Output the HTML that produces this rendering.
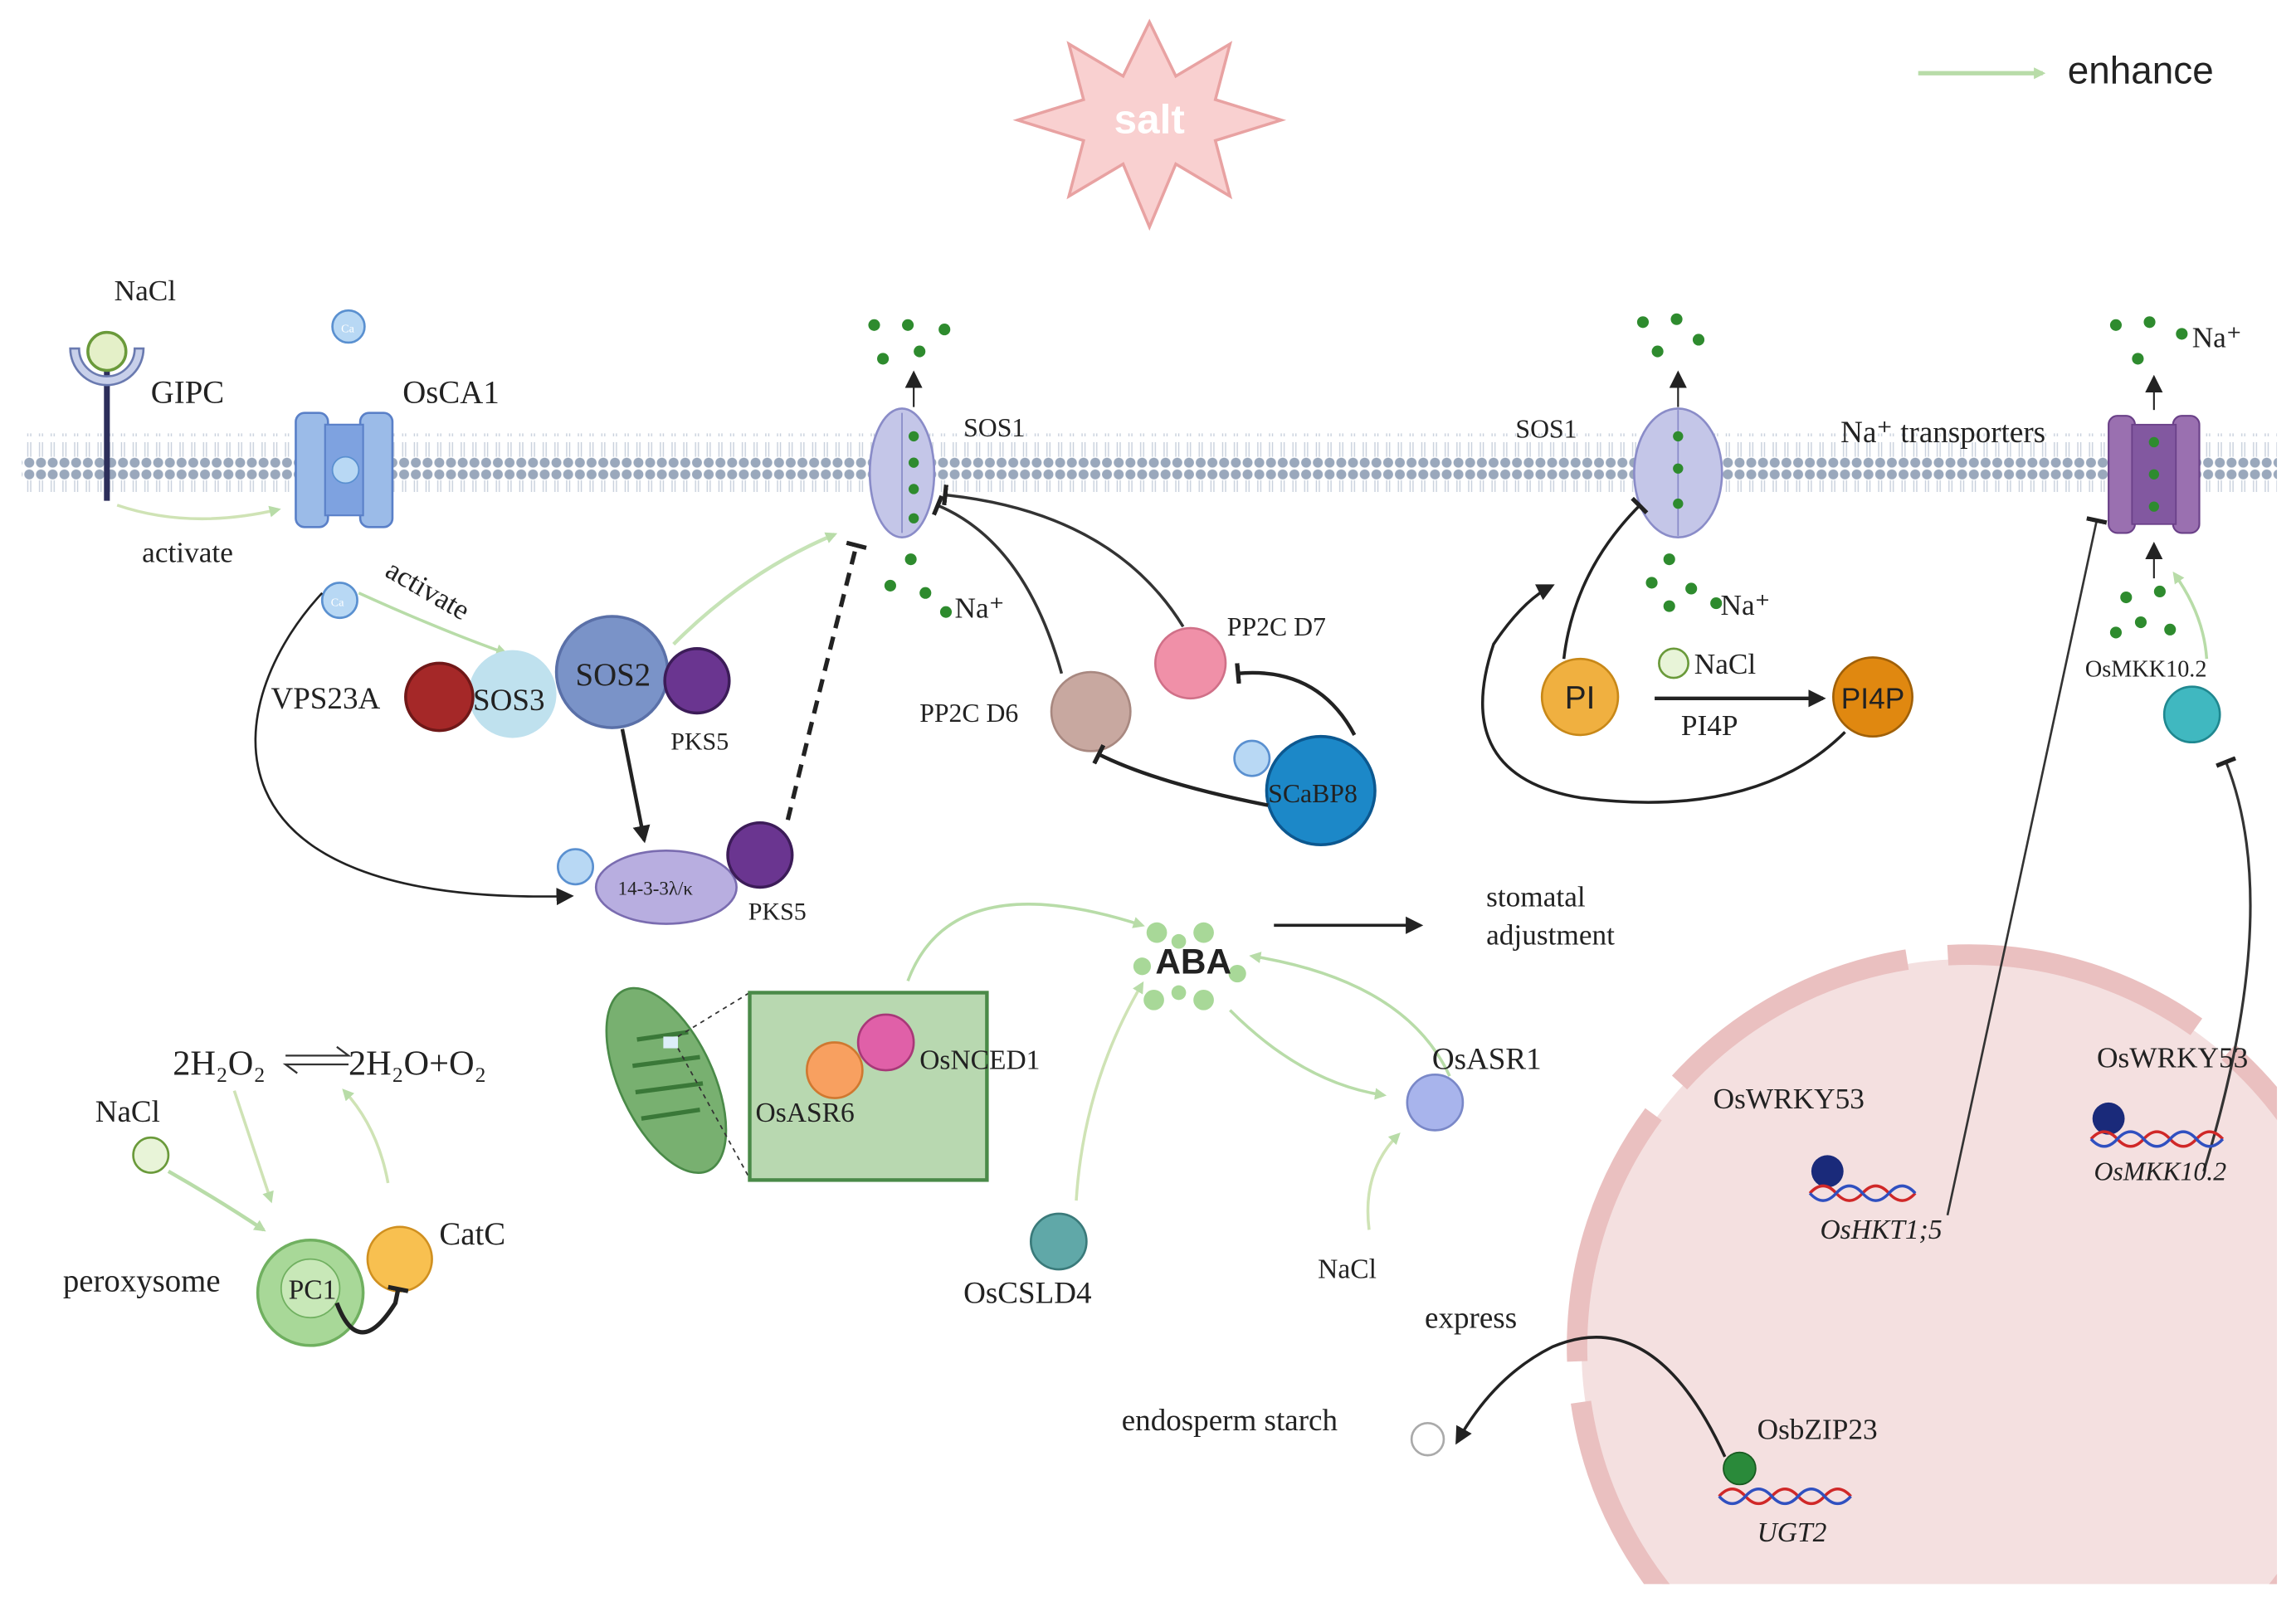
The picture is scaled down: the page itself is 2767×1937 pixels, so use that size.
<!DOCTYPE html>
<html><head><meta charset="utf-8"><style>
html,body{margin:0;padding:0;background:#fff;width:2767px;height:1937px;overflow:hidden;}
svg{display:block;}
text{font-family:"Liberation Serif",serif;fill:#222;}
.s{font-family:"Liberation Sans",sans-serif;}
</style></head><body>
<svg width="2767" height="1937" viewBox="0 0 1568 1097.6" xmlns="http://www.w3.org/2000/svg">
<defs>
<marker id="ga" markerWidth="8" markerHeight="8" refX="6" refY="4" orient="auto" markerUnits="userSpaceOnUse" viewBox="0 0 8 8"><path d="M0,0L8,4L0,8z" fill="#b8dca8"/></marker>
<marker id="ka" markerWidth="12" markerHeight="12" refX="10" refY="6" orient="auto" markerUnits="userSpaceOnUse"><path d="M0,0L12,6L0,12z" fill="#222"/></marker>
<marker id="kt" markerWidth="4" markerHeight="14" refX="2" refY="7" orient="auto" markerUnits="userSpaceOnUse"><rect x="0" y="0" width="3" height="14" fill="#222"/></marker>
<pattern id="lip" width="8" height="40" patternUnits="userSpaceOnUse">
<circle cx="4" cy="4" r="3.4" fill="#9aa8bc"/><circle cx="4" cy="36" r="3.4" fill="#9aa8bc"/>
<path d="M3,8 L3,18 M5,8 L5,18 M3,22 L3,32 M5,22 L5,32" stroke="#c8d0dc" stroke-width="0.8"/>
</pattern>
</defs>

<rect x="15" y="296" width="1540" height="40" fill="url(#lip)"/>

<polygon points="785,15 803,52 840,30 830,68 875,82 830,96 840,134 803,112 785,155 767,112 730,134 740,96 695,82 740,68 730,30 767,52" fill="#f9d0d0" stroke="#e8a2a2" stroke-width="2"/>
<text x="785" y="91" class="s" font-size="28" font-weight="bold" text-anchor="middle" style="fill:#fff">salt</text>

<line x1="1310" y1="50" x2="1395" y2="50" stroke="#b8dca8" stroke-width="3" marker-end="url(#ga)"/>
<text x="1412" y="57" class="s" font-size="26">enhance</text>

<clipPath id="nc"><rect x="0" y="0" width="1555" height="1082"/></clipPath>
<g clip-path="url(#nc)">
<circle cx="1345" cy="920" r="265" fill="#f4e0e0"/>
<circle cx="1345" cy="920" r="268" fill="none" stroke="#eac0c0" stroke-width="14" stroke-dasharray="180 28"/>
</g>

<line x1="73" y1="250" x2="73" y2="342" stroke="#2c2e5a" stroke-width="4"/>
<path d="M48,238 A25,25 0 0 0 98,238 L92,238 A19,19 0 0 1 54,238 Z" fill="#c8d0ea" stroke="#6a7ab0" stroke-width="1.5"/>
<circle cx="73" cy="240" r="13" fill="#e4f0c8" stroke="#6a9a3a" stroke-width="2"/>
<text x="78" y="205" font-size="20">NaCl</text>
<text x="103" y="275" font-size="22">GIPC</text>
<path d="M80,345 Q130,362 190,348" fill="none" stroke="#cfe3b5" stroke-width="2" marker-end="url(#ga)"/>
<text x="97" y="384" font-size="20">activate</text>

<rect x="202" y="282" width="22" height="78" rx="6" fill="#9bbbe8" stroke="#5a80c8" stroke-width="1.5"/>
<rect x="246" y="282" width="22" height="78" rx="6" fill="#9bbbe8" stroke="#5a80c8" stroke-width="1.5"/>
<rect x="222" y="290" width="26" height="62" fill="#7ea2e0" stroke="#5a80c8" stroke-width="1.2"/>
<circle cx="236" cy="321" r="9" fill="#b8d8f4" stroke="#5a90d0"/>
<circle cx="238" cy="223" r="11" fill="#b8d8f4" stroke="#5a90d0" stroke-width="1.5"/>
<text x="233" y="227" font-size="8" style="fill:#fff">Ca</text>
<text x="275" y="275" font-size="22">OsCA1</text>
<circle cx="232" cy="410" r="12" fill="#b8d8f4" stroke="#5a90d0" stroke-width="1.5"/>
<text x="226" y="414" font-size="8" style="fill:#fff">Ca</text>
<text x="262" y="393" font-size="20" transform="rotate(30 262 393)">activate</text>
<path d="M245,405 Q300,430 345,446" fill="none" stroke="#b8dca8" stroke-width="2" marker-end="url(#ga)"/>
<path d="M220,405 C150,480 130,620 390,612" fill="none" stroke="#222" stroke-width="1.5" marker-end="url(#ka)"/>

<circle cx="350" cy="474" r="30" fill="#bfe1ee"/>
<circle cx="300" cy="476" r="23" fill="#a52828" stroke="#701818" stroke-width="2"/>
<text x="185" y="484" font-size="21">VPS23A</text>
<text x="323" y="485" font-size="21">SOS3</text>
<circle cx="418" cy="459" r="38" fill="#7a93c8" stroke="#5a70a8" stroke-width="2"/>
<text x="393" y="468" font-size="22">SOS2</text>
<circle cx="476" cy="465" r="22" fill="#6a3590" stroke="#3c1c58" stroke-width="2"/>
<text x="458" y="512" font-size="17">PKS5</text>
<line x1="425" y1="498" x2="440" y2="574" stroke="#222" stroke-width="2.5" marker-end="url(#ka)"/>
<path d="M460,440 Q510,390 570,365" fill="none" stroke="#c6e3b6" stroke-width="2.5" marker-end="url(#ga)"/>
<ellipse cx="455" cy="606" rx="48" ry="25" fill="#b8aee0" stroke="#7a6cb0" stroke-width="1.5"/>
<text x="422" y="611" font-size="13">14-3-3λ/κ</text>
<circle cx="393" cy="592" r="12" fill="#b8d8f4" stroke="#5a90d0" stroke-width="1.5"/>
<circle cx="519" cy="584" r="22" fill="#6a3590" stroke="#3c1c58" stroke-width="2"/>
<text x="511" y="628" font-size="17">PKS5</text>
<path d="M538,560 Q560,470 585,372" fill="none" stroke="#222" stroke-width="3" stroke-dasharray="9 6" marker-end="url(#kt)"/>

<ellipse cx="616" cy="323" rx="22" ry="44" fill="#c4c6e8" stroke="#8a8cc8" stroke-width="1.5"/>
<line x1="616" y1="282" x2="616" y2="364" stroke="#8a8cc8"/>
<circle cx="624" cy="298" r="3.5" fill="#2e8b2e"/><circle cx="624" cy="316" r="3.5" fill="#2e8b2e"/><circle cx="624" cy="334" r="3.5" fill="#2e8b2e"/><circle cx="624" cy="354" r="3.5" fill="#2e8b2e"/>
<line x1="624" y1="278" x2="624" y2="255" stroke="#222" stroke-width="1.2" marker-end="url(#ka)"/>
<g fill="#2e8b2e"><circle cx="597" cy="222" r="4"/><circle cx="620" cy="222" r="4"/><circle cx="645" cy="225" r="4"/><circle cx="603" cy="245" r="4"/><circle cx="628" cy="240" r="4"/><circle cx="622" cy="382" r="4"/><circle cx="608" cy="400" r="4"/><circle cx="632" cy="405" r="4"/><circle cx="646" cy="418" r="4"/></g>
<text x="658" y="298" font-size="18">SOS1</text>
<text x="652" y="422" font-size="20">Na⁺</text>

<circle cx="745" cy="486" r="27" fill="#c8a8a0" stroke="#a88880" stroke-width="1.5"/>
<text x="628" y="493" font-size="18">PP2C D6</text>
<circle cx="813" cy="453" r="24" fill="#f090a8" stroke="#d07088" stroke-width="1.5"/>
<text x="838" y="434" font-size="18">PP2C D7</text>
<circle cx="902" cy="540" r="37" fill="#1c88c8" stroke="#0c5890" stroke-width="2"/>
<text x="866" y="548" font-size="18">SCaBP8</text>
<circle cx="855" cy="518" r="12" fill="#b8d8f4" stroke="#5a90d0" stroke-width="1.5"/>
<path d="M725,460 Q700,370 640,345" fill="none" stroke="#333" stroke-width="2" marker-end="url(#kt)"/>
<path d="M808,428 Q760,350 645,338" fill="none" stroke="#333" stroke-width="2" marker-end="url(#kt)"/>
<path d="M925,502 Q900,455 845,460" fill="none" stroke="#222" stroke-width="2.5" marker-end="url(#kt)"/>
<path d="M866,550 Q790,535 750,515" fill="none" stroke="#222" stroke-width="2.5" marker-end="url(#kt)"/>

<ellipse cx="1146" cy="323" rx="30" ry="44" fill="#c4c6e8" stroke="#8a8cc8" stroke-width="1.5"/>
<line x1="1146" y1="280" x2="1146" y2="366" stroke="#8a8cc8"/>
<circle cx="1146" cy="298" r="3.5" fill="#2e8b2e"/><circle cx="1146" cy="320" r="3.5" fill="#2e8b2e"/><circle cx="1146" cy="344" r="3.5" fill="#2e8b2e"/>
<line x1="1146" y1="278" x2="1146" y2="255" stroke="#222" stroke-width="1.2" marker-end="url(#ka)"/>
<g fill="#2e8b2e"><circle cx="1122" cy="220" r="4"/><circle cx="1145" cy="218" r="4"/><circle cx="1160" cy="232" r="4"/><circle cx="1132" cy="240" r="4"/><circle cx="1140" cy="382" r="4"/><circle cx="1128" cy="398" r="4"/><circle cx="1155" cy="402" r="4"/><circle cx="1140" cy="414" r="4"/><circle cx="1172" cy="412" r="4"/></g>
<text x="1035" y="299" font-size="18">SOS1</text>
<text x="1175" y="420" font-size="20">Na⁺</text>
<circle cx="1079" cy="476" r="26" fill="#f0b040" stroke="#c88818" stroke-width="1.5"/>
<text x="1079" y="484" class="s" font-size="22" text-anchor="middle">PI</text>
<circle cx="1279" cy="476" r="27" fill="#e08810" stroke="#a06008" stroke-width="1.5"/>
<text x="1279" y="484" class="s" font-size="20" text-anchor="middle">PI4P</text>
<line x1="1130" y1="477" x2="1245" y2="477" stroke="#222" stroke-width="2.5" marker-end="url(#ka)"/>
<circle cx="1143" cy="453" r="10" fill="#e8f4d8" stroke="#6a9a3a" stroke-width="1.5"/>
<text x="1157" y="460" font-size="20">NaCl</text>
<text x="1148" y="502" font-size="20">PI4P</text>
<path d="M1068,450 Q1075,390 1120,345" fill="none" stroke="#222" stroke-width="2" marker-end="url(#kt)"/>
<path d="M1260,500 Q1200,560 1080,545 Q990,530 1020,440 Q1040,410 1060,400" fill="none" stroke="#222" stroke-width="2" marker-end="url(#ka)"/>

<rect x="1440" y="284" width="18" height="80" rx="6" fill="#9a70b0" stroke="#6a4088" stroke-width="1.2"/>
<rect x="1484" y="284" width="18" height="80" rx="6" fill="#9a70b0" stroke="#6a4088" stroke-width="1.2"/>
<rect x="1456" y="290" width="30" height="68" fill="#8258a0" stroke="#6a4088"/>
<circle cx="1471" cy="302" r="3.5" fill="#2e8b2e"/><circle cx="1471" cy="324" r="3.5" fill="#2e8b2e"/><circle cx="1471" cy="346" r="3.5" fill="#2e8b2e"/>
<line x1="1471" y1="280" x2="1471" y2="258" stroke="#222" stroke-width="1.2" marker-end="url(#ka)"/>
<line x1="1471" y1="395" x2="1471" y2="372" stroke="#222" stroke-width="1.2" marker-end="url(#ka)"/>
<g fill="#2e8b2e"><circle cx="1445" cy="222" r="4"/><circle cx="1468" cy="220" r="4"/><circle cx="1490" cy="228" r="4"/><circle cx="1460" cy="245" r="4"/><circle cx="1452" cy="408" r="4"/><circle cx="1475" cy="404" r="4"/><circle cx="1462" cy="425" r="4"/><circle cx="1445" cy="432" r="4"/><circle cx="1482" cy="430" r="4"/></g>
<text x="1497" y="237" font-size="20">Na⁺</text>
<text x="1257" y="302" font-size="21">Na⁺ transporters</text>
<circle cx="1497" cy="488" r="19" fill="#40b8c0" stroke="#208890" stroke-width="1.5"/>
<text x="1424" y="462" font-size="16">OsMKK10.2</text>
<path d="M1507,450 Q1505,420 1485,392" fill="none" stroke="#b8dca8" stroke-width="2" marker-end="url(#ga)"/>
<path d="M1330,830 L1432,355" fill="none" stroke="#333" stroke-width="1.5" marker-end="url(#kt)"/>
<path d="M1505,800 Q1560,620 1520,520" fill="none" stroke="#333" stroke-width="1.8" marker-end="url(#kt)"/>

<g fill="#a8d898"><circle cx="790" cy="637" r="7"/><circle cx="822" cy="637" r="7"/><circle cx="805" cy="643" r="5"/><circle cx="788" cy="683" r="7"/><circle cx="822" cy="683" r="7"/><circle cx="780" cy="660" r="6"/><circle cx="845" cy="665" r="6"/><circle cx="805" cy="678" r="5"/></g>
<text x="815" y="665" class="s" font-size="24" font-weight="bold" text-anchor="middle">ABA</text>
<line x1="870" y1="632" x2="970" y2="632" stroke="#222" stroke-width="2" marker-end="url(#ka)"/>
<text x="1015" y="619" font-size="20">stomatal</text>
<text x="1015" y="645" font-size="20">adjustment</text>
<path d="M620,670 Q650,590 780,632" fill="none" stroke="#b8dca8" stroke-width="2" marker-end="url(#ga)"/>
<path d="M735,820 Q740,740 780,672" fill="none" stroke="#cfe3b5" stroke-width="2" marker-end="url(#ga)"/>
<path d="M840,690 Q890,740 945,748" fill="none" stroke="#b8dca8" stroke-width="2" marker-end="url(#ga)"/>
<path d="M990,735 Q960,670 855,653" fill="none" stroke="#b8dca8" stroke-width="2" marker-end="url(#ga)"/>
<circle cx="980" cy="753" r="19" fill="#a8b4ec" stroke="#7a88c8" stroke-width="1.5"/>
<text x="978" y="730" font-size="21">OsASR1</text>
<path d="M935,840 Q930,800 955,775" fill="none" stroke="#cfe3b5" stroke-width="2" marker-end="url(#ga)"/>
<text x="900" y="873" font-size="19">NaCl</text>
<circle cx="723" cy="848" r="19" fill="#60a8a8" stroke="#3a7a7a" stroke-width="1.5"/>
<text x="658" y="890" font-size="21">OsCSLD4</text>

<ellipse cx="455" cy="738" rx="32" ry="68" transform="rotate(-25 455 738)" fill="#78b070" stroke="#4a8a48" stroke-width="1.5"/>
<g stroke="#3a7838" stroke-width="3"><line x1="435" y1="710" x2="470" y2="705"/><line x1="432" y1="728" x2="478" y2="722"/><line x1="434" y1="746" x2="480" y2="740"/><line x1="438" y1="764" x2="478" y2="758"/></g>
<rect x="453" y="708" width="10" height="8" fill="#ddeefa"/>
<line x1="463" y1="708" x2="512" y2="678" stroke="#333" stroke-dasharray="3 3"/>
<line x1="463" y1="716" x2="512" y2="805" stroke="#333" stroke-dasharray="3 3"/>
<rect x="512" y="678" width="162" height="128" fill="#b8d8b0" stroke="#4a8a48" stroke-width="2.5"/>
<circle cx="570" cy="731" r="19" fill="#f8a060" stroke="#d07830" stroke-width="1.5"/>
<circle cx="605" cy="712" r="19" fill="#e060a8" stroke="#a83878" stroke-width="1.5"/>
<text x="628" y="730" font-size="19">OsNCED1</text>
<text x="516" y="766" font-size="19">OsASR6</text>

<text x="118" y="734" font-size="24">2H₂O₂</text>
<path d="M195,721 L238,721 L230,715" fill="none" stroke="#333" stroke-width="1.3"/>
<path d="M238,727 L195,727 L203,733" fill="none" stroke="#333" stroke-width="1.3"/>
<text x="238" y="734" font-size="24">2H₂O+O₂</text>
<text x="65" y="766" font-size="21">NaCl</text>
<circle cx="103" cy="789" r="12" fill="#e8f4d8" stroke="#6a9a3a" stroke-width="1.5"/>
<path d="M115,800 Q150,820 180,840" fill="none" stroke="#b8dca8" stroke-width="2.5" marker-end="url(#ga)"/>
<path d="M160,745 Q175,790 185,820" fill="none" stroke="#cfe3b5" stroke-width="2" marker-end="url(#ga)"/>
<path d="M265,808 Q258,770 235,745" fill="none" stroke="#cfe3b5" stroke-width="2" marker-end="url(#ga)"/>
<circle cx="212" cy="883" r="36" fill="#a8d898" stroke="#70b060" stroke-width="2"/>
<circle cx="212" cy="880" r="20" fill="#c8e8b8" stroke="#70b060"/>
<text x="197" y="887" font-size="19">PC1</text>
<circle cx="273" cy="860" r="22" fill="#f8c050" stroke="#d09020" stroke-width="1.5"/>
<text x="300" y="850" font-size="22">CatC</text>
<text x="43" y="882" font-size="22">peroxysome</text>
<path d="M230,890 Q245,930 270,890 L272,880" fill="none" stroke="#222" stroke-width="3" marker-end="url(#kt)"/>

<text x="1170" y="757" font-size="20">OsWRKY53</text>
<circle cx="1248" cy="800" r="11" fill="#1a2a7a"/>
<path d="M1236,815 q9,-10 18,0 t18,0 t18,0 t18,0" fill="none" stroke="#d02828" stroke-width="2"/>
<path d="M1236,815 q9,10 18,0 t18,0 t18,0 t18,0" fill="none" stroke="#3050c0" stroke-width="2"/>
<text x="1243" y="846" font-size="19" font-style="italic">OsHKT1;5</text>
<text x="1432" y="729" font-size="20">OsWRKY53</text>
<circle cx="1440" cy="764" r="11" fill="#1a2a7a"/>
<path d="M1428,778 q9,-10 18,0 t18,0 t18,0 t18,0 t18,0" fill="none" stroke="#d02828" stroke-width="2"/>
<path d="M1428,778 q9,10 18,0 t18,0 t18,0 t18,0 t18,0" fill="none" stroke="#3050c0" stroke-width="2"/>
<text x="1430" y="806" font-size="18" font-style="italic">OsMKK10.2</text>
<text x="1200" y="983" font-size="20">OsbZIP23</text>
<circle cx="1188" cy="1003" r="11" fill="#2a8a3a" stroke="#185a20"/>
<path d="M1174,1022 q9,-10 18,0 t18,0 t18,0 t18,0 t18,0" fill="none" stroke="#d02828" stroke-width="2"/>
<path d="M1174,1022 q9,10 18,0 t18,0 t18,0 t18,0 t18,0" fill="none" stroke="#3050c0" stroke-width="2"/>
<text x="1200" y="1053" font-size="19" font-style="italic">UGT2</text>
<text x="973" y="907" font-size="21">express</text>
<path d="M1178,995 Q1130,890 1060,920 Q1020,940 995,985" fill="none" stroke="#222" stroke-width="2" marker-end="url(#ka)"/>
<circle cx="975" cy="983" r="11" fill="#fff" stroke="#aaa" stroke-width="1.5"/>
<text x="766" y="977" font-size="21">endosperm starch</text>
</svg>
</body></html>
